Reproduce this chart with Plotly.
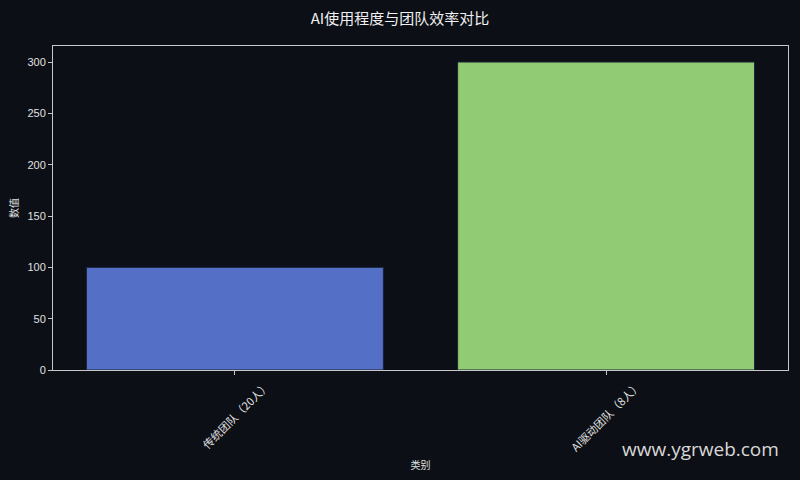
import plotly.graph_objects as go

# chart data
categories = ["传统团队（20人）", "AI驱动团队（8人）"]
values = [100, 300]
bar_colors = ["#5470c6", "#91cc75"]

title_text = "AI使用程度与团队效率对比"
x_title = "类别"
y_title = "数值"
watermark = "www.ygrweb.com"

bg = "#0c0f16"
axis_col = "#c8c8c8"
txt_col = "#e0e0e0"

fig = go.Figure(
    go.Bar(
        x=categories,
        y=values,
        width=0.8,
        marker=dict(color=bar_colors, line=dict(color="#1a2233", width=1)),
    )
)

fig.update_layout(
    width=800,
    height=480,
    paper_bgcolor=bg,
    plot_bgcolor=bg,
    margin=dict(l=53, r=12, t=46, b=110),
    font=dict(family="Noto Sans CJK SC, DejaVu Sans", color=txt_col, size=11),
    title=dict(
        text=title_text,
        x=0.5,
        xanchor="center",
        y=0.96,
        yanchor="middle",
        font=dict(size=15, color="#f0f0f0"),
    ),
    showlegend=False,
)

fig.update_xaxes(
    range=[-0.49, 1.49],
    tickangle=-45,
    ticklabelshift=32,
    ticks="outside",
    ticklen=4,
    tickcolor=axis_col,
    showline=True,
    linecolor=axis_col,
    linewidth=1,
    mirror=True,
    showgrid=False,
    zeroline=False,
    tickfont=dict(size=11, color=txt_col),
    title=dict(text=x_title, font=dict(size=10, color=txt_col), standoff=8),
)

fig.update_yaxes(
    range=[0, 315.6],
    tickvals=[0, 50, 100, 150, 200, 250, 300],
    ticks="outside",
    ticklen=4,
    tickcolor=axis_col,
    showline=True,
    linecolor=axis_col,
    linewidth=1,
    mirror=True,
    showgrid=False,
    zeroline=False,
    tickfont=dict(size=11, color=txt_col, family="Liberation Sans, Arial"),
    title=dict(text=y_title, font=dict(size=10, color=txt_col), standoff=6),
)

fig.add_annotation(
    text=watermark,
    xref="paper",
    yref="paper",
    x=1.0,
    y=-0.233,
    xshift=-7,
    yshift=-4,
    xanchor="right",
    yanchor="middle",
    showarrow=False,
    font=dict(family="Open Sans, Noto Sans", size=19, color="#d8d8d8"),
)

# drop the page margin so the figure sits at the window corner
fig.write_html(
    "out.html",
    config={"displayModeBar": False},
    post_script="document.body.style.margin='0';document.body.style.background='%s';" % bg,
)
